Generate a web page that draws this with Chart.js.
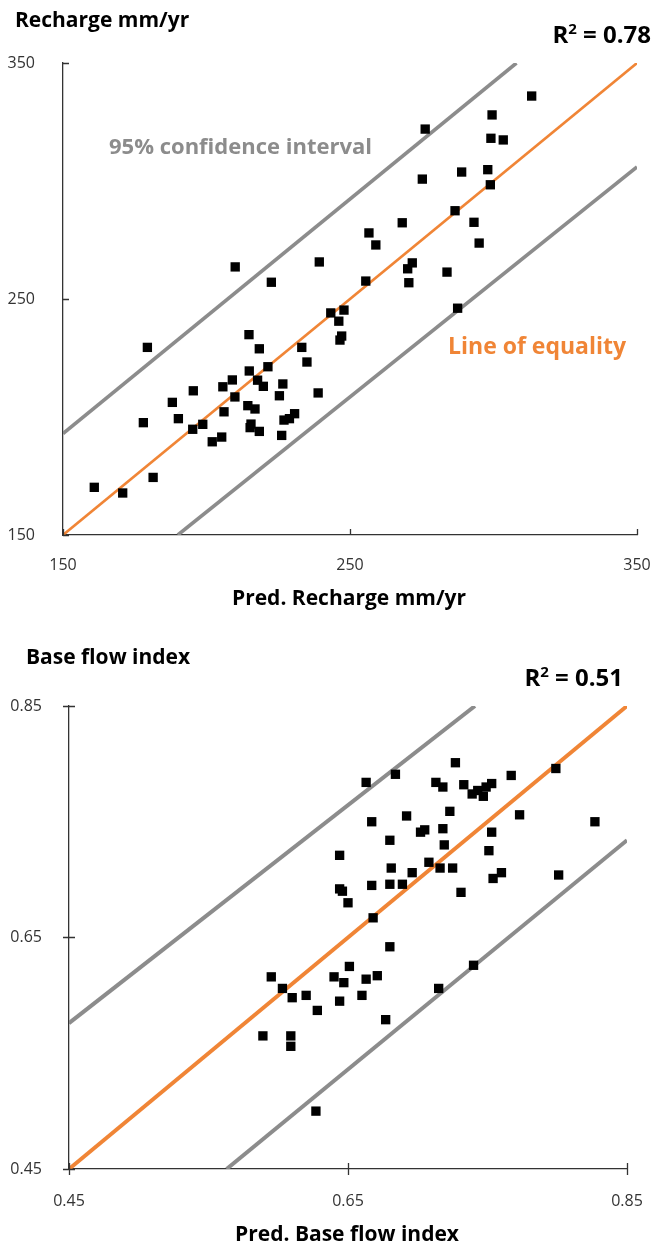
<!DOCTYPE html>
<html>
<head>
<meta charset="utf-8">
<script src="https://cdn.jsdelivr.net/npm/chart.js@4.4.0/dist/chart.umd.min.js"></script>
<style>
  html, body { margin: 0; padding: 0; background: #fff; }
  .box { position: relative; width: 656px; }
  #box1 { height: 620px; }
  #box2 { height: 625px; }
</style>
</head>
<body>
<div class="box" id="box1"><canvas id="rechargeChart"></canvas></div>
<div class="box" id="box2"><canvas id="bfiChart"></canvas></div>
<script>
// Recharge (mm/yr): predicted vs observed
const rechargePred = [160.9, 170.8, 181.4, 179.4, 178.0, 188.1, 190.2, 195.4, 195.2, 198.7,
  202.0, 205.3, 206.1, 205.7, 209.0, 209.9, 210.0, 214.8, 214.9, 214.4,
  216.9, 215.5, 215.2, 218.4, 218.4, 217.8, 219.8, 221.4, 222.6, 226.6,
  225.4, 227.0, 228.9, 230.7, 226.2, 233.2, 235.0, 238.9, 239.3, 243.3,
  247.9, 246.1, 247.1, 246.5, 255.5, 256.6, 259.0, 268.2, 270.1, 270.5,
  271.7, 275.2, 276.2, 283.8, 286.6, 287.5, 288.9, 293.2, 295.0, 298.0,
  298.9, 299.1, 299.5, 303.4, 313.3];
const rechargeObs = [170.2, 167.8, 174.4, 229.5, 197.6, 206.2, 199.3, 211.1, 194.8, 196.9,
  189.5, 191.5, 202.2, 212.8, 215.7, 208.5, 263.6, 234.9, 219.5, 204.8,
  203.4, 197.0, 195.5, 193.9, 228.9, 215.6, 213.0, 221.3, 257.1, 214.0,
  209.0, 198.7, 199.3, 201.4, 192.2, 229.5, 223.3, 210.2, 265.7, 244.1,
  245.3, 240.6, 234.3, 232.6, 257.6, 278.0, 272.9, 282.3, 262.8, 256.9,
  265.3, 300.8, 322.0, 261.4, 287.4, 246.1, 303.8, 282.5, 273.7, 304.8,
  298.4, 318.1, 328.0, 317.4, 336.0];
const rechargeTicks = [150, 250, 350];
const rechargeEqualX = [150, 350];
const rechargeEqualY = [150, 350];
const rechargeUpperX = [150, 308];
const rechargeUpperY = [193, 350];
const rechargeLowerX = [190, 350];
const rechargeLowerY = [150, 306];

// Base flow index: predicted vs observed
const bfiPred = [0.589, 0.595, 0.603, 0.609, 0.609, 0.610, 0.620, 0.627, 0.628, 0.640,
  0.644, 0.644, 0.646, 0.650, 0.644, 0.647, 0.651, 0.660, 0.663, 0.671,
  0.663, 0.667, 0.667, 0.668, 0.677, 0.680, 0.680, 0.680, 0.681, 0.684,
  0.689, 0.692, 0.696, 0.702, 0.705, 0.708, 0.713, 0.715, 0.716, 0.718,
  0.718, 0.719, 0.723, 0.725, 0.727, 0.731, 0.733, 0.739, 0.740, 0.743,
  0.747, 0.749, 0.751, 0.753, 0.753, 0.754, 0.760, 0.767, 0.773, 0.799,
  0.801, 0.827];
const bfiObs = [0.565, 0.616, 0.606, 0.565, 0.556, 0.598, 0.600, 0.500, 0.587, 0.616,
  0.721, 0.692, 0.690, 0.680, 0.595, 0.611, 0.625, 0.600, 0.614, 0.617,
  0.784, 0.750, 0.695, 0.667, 0.579, 0.642, 0.734, 0.696, 0.710, 0.791,
  0.696, 0.755, 0.706, 0.741, 0.743, 0.715, 0.784, 0.606, 0.710, 0.780,
  0.744, 0.730, 0.759, 0.710, 0.801, 0.689, 0.782, 0.774, 0.626, 0.777,
  0.772, 0.780, 0.725, 0.783, 0.741, 0.701, 0.706, 0.790, 0.756, 0.796,
  0.704, 0.750];
const bfiTicks = [0.45, 0.65, 0.85];
const bfiEqualX = [0.45, 0.85];
const bfiEqualY = [0.45, 0.85];
const bfiUpperX = [0.45, 0.741];
const bfiUpperY = [0.576, 0.85];
const bfiLowerX = [0.563, 0.85];
const bfiLowerY = [0.45, 0.734];

const ORANGE = '#F08536';
const GREY = '#8C8C8C';
const AXIS = '#333333';
const FONT = "'Open Sans', sans-serif";

Chart.defaults.font.family = FONT;
Chart.defaults.color = AXIS;

const toPoints = (xs, ys) => xs.map((x, i) => ({ x: x, y: ys[i] }));

// draws R² label right-aligned at (right, baseline)
function drawR2(ctx, value, right, baseline, size) {
  const big = 'bold ' + size + 'px ' + FONT;
  const small = 'bold ' + Math.round(size * 0.62) + 'px ' + FONT;
  const rest = ' = ' + value;
  ctx.font = big;
  const wR = ctx.measureText('R').width;
  const wRest = ctx.measureText(rest).width;
  ctx.font = small;
  const w2 = ctx.measureText('2').width;
  let x = right - wR - w2 - wRest;
  ctx.textAlign = 'left';
  ctx.textBaseline = 'alphabetic';
  ctx.fillStyle = '#000';
  ctx.font = big;
  ctx.fillText('R', x, baseline);
  x += wR;
  ctx.font = small;
  ctx.fillText('2', x, baseline - size * 0.38);
  x += w2;
  ctx.font = big;
  ctx.fillText(rest, x, baseline);
}

// tick marks and text labels
const decorations = {
  id: 'decorations',
  afterDraw(chart, args, opts) {
    const ctx = chart.ctx;
    const xs = chart.scales.x;
    const ys = chart.scales.y;
    ctx.save();
    ctx.strokeStyle = AXIS;
    ctx.lineWidth = 1.3;
    ctx.beginPath();
    xs.ticks.forEach(t => {
      const px = Math.round(xs.getPixelForValue(t.value)) + 0.5;
      ctx.moveTo(px, ys.bottom - opts.tickIn);
      ctx.lineTo(px, ys.bottom + opts.tickOut);
    });
    ys.ticks.forEach(t => {
      const py = Math.round(ys.getPixelForValue(t.value)) + 0.5;
      ctx.moveTo(xs.left - opts.tickOut, py);
      ctx.lineTo(xs.left + opts.tickIn, py);
    });
    ctx.stroke();

    opts.texts.forEach(t => {
      ctx.font = 'bold ' + t.size + 'px ' + FONT;
      ctx.fillStyle = t.color || '#000';
      ctx.textAlign = t.align || 'left';
      ctx.textBaseline = 'alphabetic';
      ctx.fillText(t.text, t.x, t.y);
    });
    drawR2(ctx, opts.r2, opts.r2x, opts.r2y, 24);
    ctx.restore();
  }
};

function makeScale(min, max, ticks, fmt, padding, fit) {
  return {
    type: 'linear',
    min: min,
    max: max,
    afterBuildTicks: s => { s.ticks = ticks.map(v => ({ value: v })); },
    afterFit: s => {
      fit(s);
      // keep the plot box fixed, labels may overhang into the page margin
      s.paddingLeft = 0;
      s.paddingRight = 0;
      s.paddingTop = 0;
      s.paddingBottom = 0;
    },
    grid: { display: false },
    border: { display: true, color: AXIS, width: 1.3 },
    ticks: {
      padding: padding,
      color: AXIS,
      font: { size: 16 },
      maxRotation: 0,
      autoSkip: false,
      callback: v => fmt(v)
    }
  };
}

function makeDatasets(px, py, eqX, eqY, upX, upY, loX, loY, eqWidth, ciWidth) {
  return [
    {
      label: 'Sites',
      data: toPoints(px, py),
      pointStyle: 'rect',
      pointRadius: 6.6,
      pointBorderWidth: 0,
      backgroundColor: '#000',
      borderColor: '#000'
    },
    {
      label: 'Line of equality',
      data: toPoints(eqX, eqY),
      showLine: true,
      pointRadius: 0,
      borderColor: ORANGE,
      borderWidth: eqWidth
    },
    {
      label: 'Upper 95%',
      data: toPoints(upX, upY),
      showLine: true,
      pointRadius: 0,
      borderColor: GREY,
      borderWidth: ciWidth
    },
    {
      label: 'Lower 95%',
      data: toPoints(loX, loY),
      showLine: true,
      pointRadius: 0,
      borderColor: GREY,
      borderWidth: ciWidth
    }
  ];
}

const commonPlugins = {
  legend: { display: false },
  tooltip: { enabled: false }
};

// Chart 1 - Recharge
new Chart(document.getElementById('rechargeChart'), {
  type: 'scatter',
  data: {
    datasets: makeDatasets(rechargePred, rechargeObs, rechargeEqualX, rechargeEqualY,
      rechargeUpperX, rechargeUpperY, rechargeLowerX, rechargeLowerY, 2.6, 3.6)
  },
  options: {
    responsive: true,
    maintainAspectRatio: false,
    animation: false,
    layout: { padding: { top: 63, right: 19, left: 0, bottom: 0 } },
    scales: {
      x: makeScale(150, 350, rechargeTicks, v => String(v), 13, s => { s.height = 85; }),
      y: makeScale(150, 350, rechargeTicks, v => String(v), 20, s => { s.width = 63; })
    },
    plugins: Object.assign({}, commonPlugins, {
      decorations: {
        tickIn: 6,
        tickOut: 0,
        r2: '0.78', r2x: 651, r2y: 43,
        texts: [
          { text: 'Recharge mm/yr', x: 15, y: 27, size: 21 },
          { text: 'Pred. Recharge mm/yr', x: 349, y: 605, size: 21, align: 'center' },
          { text: '95% confidence interval', x: 109, y: 154, size: 22, color: GREY },
          { text: 'Line of equality', x: 448, y: 354, size: 23, color: ORANGE }
        ]
      }
    })
  },
  plugins: [decorations]
});

// Chart 2 - Base flow index
new Chart(document.getElementById('bfiChart'), {
  type: 'scatter',
  data: {
    datasets: makeDatasets(bfiPred, bfiObs, bfiEqualX, bfiEqualY,
      bfiUpperX, bfiUpperY, bfiLowerX, bfiLowerY, 4, 4)
  },
  options: {
    responsive: true,
    maintainAspectRatio: false,
    animation: false,
    layout: { padding: { top: 86, right: 29, left: 0, bottom: 0 } },
    scales: {
      x: makeScale(0.45, 0.85, bfiTicks, v => Number(v).toFixed(2), 15, s => { s.height = 76; }),
      y: makeScale(0.45, 0.85, bfiTicks, v => Number(v).toFixed(2), 19, s => { s.width = 69; })
    },
    plugins: Object.assign({}, commonPlugins, {
      decorations: {
        tickIn: 6,
        tickOut: 6,
        r2: '0.51', r2x: 623, r2y: 66,
        texts: [
          { text: 'Base flow index', x: 26, y: 44, size: 21 },
          { text: 'Pred. Base flow index', x: 347, y: 621, size: 21, align: 'center' }
        ]
      }
    })
  },
  plugins: [decorations]
});
</script>
</body>
</html>
